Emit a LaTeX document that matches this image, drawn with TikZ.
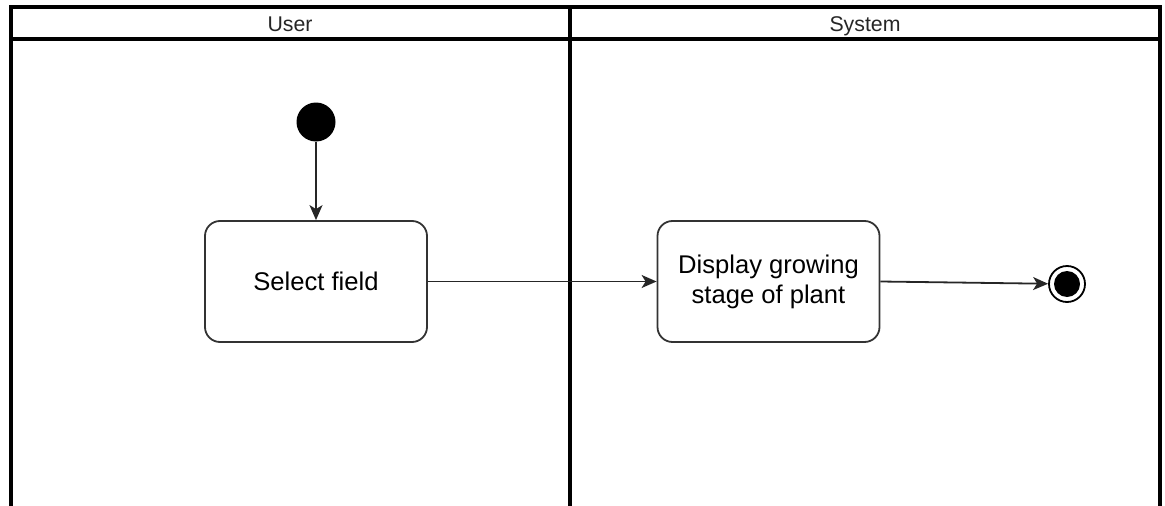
\documentclass[tikz,border=0pt]{standalone}
\usepackage{fontspec}
\setmainfont{Liberation Sans}
\usetikzlibrary{arrows.meta}
\begin{document}
\begin{tikzpicture}[x=1pt,y=-1pt,
  lane/.style={line width=3.5pt,draw=black},
  act/.style={draw=black!80,line width=1.8pt,rounded corners=15pt,minimum width=222pt,minimum height=121pt,align=center,font=\fontsize{25.6}{30}\selectfont,inner sep=0pt},
  hdr/.style={font=\fontsize{21.3}{24}\selectfont,text=black!85,anchor=base},
  flow/.style={draw=black!85,line width=1.8pt,-{Stealth[length=15pt,width=13pt,inset=4pt]}}
]
\useasboundingbox (0,0) rectangle (1165,506);
% lanes
\draw[lane] (11,506) -- (11,7) -- (1160,7) -- (1160,506);
\draw[lane] (11,39) -- (1160,39);
\draw[lane] (570,7) -- (570,506);
\node[hdr] (huser) at (290,31) {User};
\node[hdr] (hsys) at (865,31) {System};
% nodes
\node[circle,fill=black,minimum size=39pt,inner sep=0pt] (start) at (316,122) {};
\node[act] (sel) at (316,281.5) {Select field};
\node[act] (disp) at (768.5,281.5) {Display growing\\stage of plant};
\node[circle,draw=black,line width=1.8pt,minimum size=36pt,inner sep=0pt] (end) at (1067,284) {};
\node[circle,fill=black,minimum size=26pt,inner sep=0pt] (endin) at (end) {};
% edges
\draw[flow] (start) -- (sel);
\draw[flow] (sel) -- (disp);
\draw[flow] (disp.east) -- (end);
\end{tikzpicture}
\end{document}
